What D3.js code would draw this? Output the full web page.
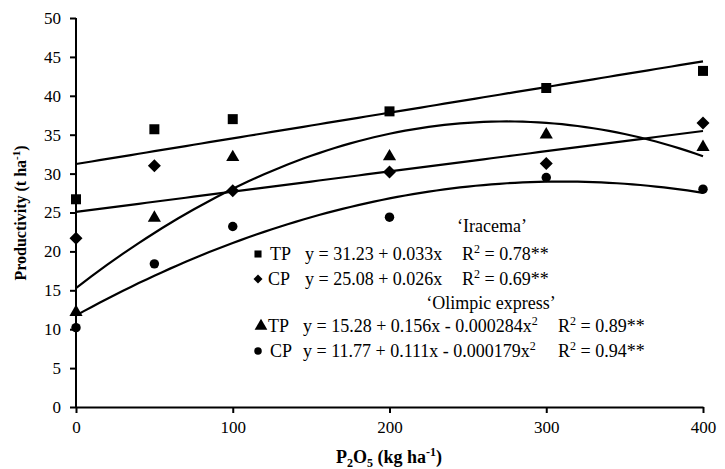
<!DOCTYPE html>
<html>
<head>
<meta charset="utf-8">
<script src="https://cdn.jsdelivr.net/npm/d3@7"></script>
<style>
  body { margin: 0; background: #fff; }
  svg { display: block; }
  text { font-family: "Liberation Serif", "Times New Roman", serif; fill: #000; }
</style>
</head>
<body>
<svg id="chart" width="725" height="469"></svg>
<script>
// P2O5 doses (kg/ha)
var doses = [0, 50, 100, 200, 300, 400];

// observed productivity (t/ha)
var iracemaTP = [26.7, 35.7, 37.0, 38.0, 41.0, 43.2];
var iracemaCP = [21.7, 31.0, 27.8, 30.2, 31.3, 36.5];
var olimpicTP = [12.2, 24.3, 32.1, 32.2, 35.0, 33.4];
var olimpicCP = [10.2, 18.4, 23.2, 24.4, 29.5, 28.0];

// regression coefficients [a, b, c] -> y = a + b x + c x^2
var coefIracemaTP = [31.23, 0.033, 0];
var coefIracemaCP = [25.08, 0.026, 0];
var coefOlimpicTP = [15.28, 0.156, -0.000284];
var coefOlimpicCP = [11.77, 0.111, -0.000179];

var xTicks = [0, 100, 200, 300, 400];
var yTicks = [0, 5, 10, 15, 20, 25, 30, 35, 40, 45, 50];

var svg = d3.select("#chart");

var x = d3.scaleLinear().domain([0, 400]).range([76, 703]);
var y = d3.scaleLinear().domain([0, 50]).range([407, 18]);

// axes
var xAxis = svg.append("g")
    .attr("transform", "translate(0," + y(0) + ")")
    .call(d3.axisBottom(x).tickValues(xTicks).tickSize(6).tickPadding(8).tickSizeOuter(0));
var yAxis = svg.append("g")
    .attr("transform", "translate(" + x(0) + ",0)")
    .call(d3.axisLeft(y).tickValues(yTicks).tickSize(6).tickPadding(9).tickSizeOuter(0));

[xAxis, yAxis].forEach(function(a){
    a.select(".domain").attr("stroke", "#000").attr("stroke-width", 2);
    a.selectAll(".tick line").attr("stroke", "#000").attr("stroke-width", 2);
    a.selectAll(".tick text")
        .attr("font-family", "Liberation Serif, serif")
        .attr("font-size", 17)
        .attr("fill", "#222");
});
yAxis.select(".domain").attr("d", "M0," + y(50) + "V" + (y(0) + 1));

// trend lines
var line = d3.line()
    .x(function(d){ return x(d[0]); })
    .y(function(d){ return y(d[1]); });

function curve(c){
    return d3.range(0, 401, 5).map(function(v){
        return [v, c[0] + c[1]*v + c[2]*v*v];
    });
}

[coefIracemaTP, coefIracemaCP, coefOlimpicTP, coefOlimpicCP].forEach(function(c){
    svg.append("path")
        .attr("d", line(curve(c)))
        .attr("fill", "none")
        .attr("stroke", "#000")
        .attr("stroke-width", 2.2);
});

// markers (diamond = square turned 45deg)
var series = [
    {vals: iracemaTP, sym: d3.symbolSquare, size: 100, rot: 0},
    {vals: iracemaCP, sym: d3.symbolSquare, size: 85, rot: 45},
    {vals: olimpicTP, sym: d3.symbolTriangle, size: 75, rot: 0},
    {vals: olimpicCP, sym: d3.symbolCircle, size: 70, rot: 0}
];

series.forEach(function(s){
    svg.append("g").selectAll("path")
        .data(s.vals)
        .enter().append("path")
        .attr("d", d3.symbol().type(s.sym).size(s.size))
        .attr("transform", function(d, i){
            return "translate(" + x(doses[i]) + "," + y(d) + ") rotate(" + s.rot + ")";
        })
        .attr("fill", "#000");
});

// legend
var lg = svg.append("g").attr("font-size", 18);

lg.append("text").attr("x", 492).attr("y", 232).attr("text-anchor", "middle").text("\u2018Iracema\u2019");
lg.append("text").attr("x", 491).attr("y", 309).attr("text-anchor", "middle").text("\u2018Olimpic express\u2019");

var rows = [
    {sym: d3.symbolSquare, size: 50, rot: 0, sx: 258, lab: "TP", lx: 270, eq: "y = 31.23 + 0.033x", ex: 305, sq: false, r: "0.78**", rx: 462, yb: 260},
    {sym: d3.symbolSquare, size: 40, rot: 45, sx: 258, lab: "CP", lx: 268, eq: "y = 25.08 + 0.026x", ex: 305, sq: false, r: "0.69**", rx: 462, yb: 285},
    {sym: d3.symbolTriangle, size: 70, rot: 0, sx: 261, lab: "TP", lx: 268, eq: "y = 15.28 + 0.156x - 0.000284x", ex: 303, sq: true, r: "0.89**", rx: 558, yb: 332},
    {sym: d3.symbolCircle, size: 45, rot: 0, sx: 258, lab: "CP", lx: 270, eq: "y = 11.77 + 0.111x - 0.000179x", ex: 303, sq: true, r: "0.94**", rx: 558, yb: 357}
];

rows.forEach(function(r){
    lg.append("path")
        .attr("d", d3.symbol().type(r.sym).size(r.size))
        .attr("transform", "translate(" + r.sx + "," + (r.yb - 6) + ") rotate(" + r.rot + ")")
        .attr("fill", "#000");
    lg.append("text").attr("x", r.lx).attr("y", r.yb).text(r.lab);
    var t = lg.append("text").attr("x", r.ex).attr("y", r.yb).text(r.eq);
    if (r.sq) t.append("tspan").attr("dy", -7).attr("font-size", 12).text("2");
    var rt = lg.append("text").attr("x", r.rx).attr("y", r.yb).text("R");
    rt.append("tspan").attr("dy", -7).attr("font-size", 12).text("2");
    rt.append("tspan").attr("dy", 7).text(" = " + r.r);
});

// axis titles
var xt = svg.append("text")
    .attr("x", 389).attr("y", 463)
    .attr("text-anchor", "middle")
    .attr("font-weight", "bold")
    .attr("font-size", 18)
    .text("P");
xt.append("tspan").attr("font-size", 12).attr("dy", 4).text("2");
xt.append("tspan").attr("dy", -4).text("O");
xt.append("tspan").attr("font-size", 12).attr("dy", 4).text("5");
xt.append("tspan").attr("dy", -4).text(" (kg ha");
xt.append("tspan").attr("font-size", 12).attr("dy", -7).text("-1");
xt.append("tspan").attr("dy", 7).text(")");

var yt = svg.append("text")
    .attr("transform", "translate(26,213) rotate(-90)")
    .attr("text-anchor", "middle")
    .attr("font-weight", "bold")
    .attr("font-size", 16)
    .text("Productivity (t ha");
yt.append("tspan").attr("font-size", 11).attr("dy", -6).text("-1");
yt.append("tspan").attr("dy", 6).text(")");
</script>
</body>
</html>
